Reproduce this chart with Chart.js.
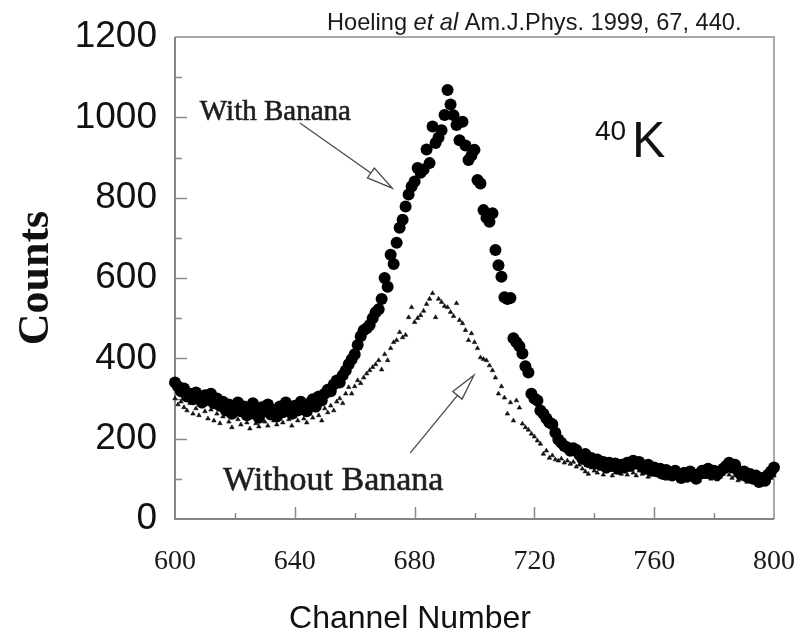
<!DOCTYPE html>
<html>
<head>
<meta charset="utf-8">
<title>40K spectrum with and without banana</title>
<script src="https://cdn.jsdelivr.net/npm/chart.js@4.4.1/dist/chart.umd.min.js"></script>
<style>
  html, body { margin: 0; padding: 0; background: #fff; }
  canvas { display: block; }
</style>
</head>
<body>
<canvas id="spectrum" width="811" height="631"></canvas>
<script>
// Counts per channel, one value per channel starting at firstChannel.
const firstChannel = 600;

const withBanana = [
  340, 330, 318, 325, 305, 312, 298, 315, 302, 290,
  308, 296, 312, 288, 300, 282, 292, 270, 285, 262,
  278, 290, 268, 280, 258, 275, 288, 265, 252, 278,
  268, 285, 260, 272, 255, 280, 266, 290, 272, 262,
  282, 270, 292, 278, 268, 288, 298, 280, 305, 295,
  312, 322, 318, 335, 345, 340, 358, 370, 385, 398,
  410, 433, 455, 470, 475, 483, 500, 515, 522, 548,
  600, 578, 658, 635, 688, 725, 745, 778, 808, 828,
  840, 874, 862, 870, 920, 886, 977, 936, 950, 968,
  1006, 1068, 1032, 1005, 981, 943, 989, 930, 894, 905,
  919, 844, 835, 769, 750, 740, 761, 670, 632, 603,
  552, 548, 550, 450, 440, 430, 412, 380, 365, 312,
  300, 295, 270, 262, 250, 240, 236, 215, 198, 190,
  182, 178, 170, 176, 172, 160, 150, 162, 142, 152,
  138, 148, 135, 142, 128, 140, 132, 138, 125, 135,
  128, 140, 132, 145, 138, 142, 130, 125, 135, 120,
  128, 118, 125, 112, 122, 115, 108, 120, 112, 102,
  115, 105, 118, 110, 100, 112, 120, 115, 125, 112,
  120, 110, 118, 125, 132, 140, 128, 135, 120, 110,
  118, 105, 112, 100, 108, 92, 102, 95, 110, 118,
  128
];

const withoutBanana = [
  300, 285, 292, 278, 270, 288, 262, 275, 258, 280,
  268, 250, 272, 245, 262, 238, 255, 270, 242, 228,
  258, 248, 235, 262, 240, 225, 252, 238, 230, 255,
  242, 232, 258, 245, 235, 250, 240, 262, 248, 232,
  255, 245, 268, 250, 240, 262, 252, 270, 258, 245,
  275, 265, 282, 270, 292, 300, 288, 312, 328, 312,
  330, 345, 338, 352, 362, 370, 378, 385, 395, 372,
  410, 395, 425, 440, 445, 465, 452, 458, 502, 527,
  490, 500, 507, 518, 535, 548, 562, 502, 548, 540,
  530, 527, 515, 505, 537, 495, 487, 470, 445, 462,
  440, 425, 402, 398, 395, 382, 370, 352, 312, 330,
  302, 262, 290, 245, 295, 277, 237, 228, 222, 212,
  205, 195, 187, 162, 170, 152, 158, 148, 145, 150,
  140, 145, 137, 142, 130, 135, 125, 118, 112, 128,
  120, 115, 125, 110, 118, 122, 108, 115, 120, 112,
  118, 110, 125, 115, 108, 120, 112, 118, 105, 115,
  110, 118, 105, 112, 100, 115, 108, 102, 112, 98,
  105, 110, 98, 108, 102, 95, 110, 104, 112, 100,
  108, 98, 105, 112, 118, 110, 102, 108, 96, 104,
  100, 92, 98, 105, 90, 96, 88, 100, 94, 102,
  108
];

// Axis ranges and tick spacing
const xRange = [600, 800];
const yRange = [0, 1200];
const xLabelStep = 40;
const xMinorStep = 20;
const yLabelStep = 200;
const yMinorStep = 100;

const seriesLabels = ['With Banana', 'Without Banana'];

// Text labels and arrows placed in data units (channel, counts)
const notes = {
  withText:    { ch: 608.3, counts: 993 },
  withArrow:   { from: [641.7, 986], to: [672.5, 824] },
  withoutText: { ch: 616.0, counts: 72 },
  withoutArrow:{ from: [678.5, 164], to: [699.8, 358] },
  isotope:     { ch: 740.2, counts: 901 }
};

const toPoints = (arr) => arr.map((v, i) => ({ x: firstChannel + i, y: v }));

function drawArrow(ctx, x0, y0, x1, y1) {
  const ang = Math.atan2(y1 - y0, x1 - x0);
  const headLen = 26, headHalf = 6;
  const bx = x1 - headLen * Math.cos(ang);
  const by = y1 - headLen * Math.sin(ang);
  const nx = -Math.sin(ang), ny = Math.cos(ang);
  ctx.beginPath();
  ctx.moveTo(x0, y0);
  ctx.lineTo(bx, by);
  ctx.stroke();
  ctx.beginPath();
  ctx.moveTo(x1, y1);
  ctx.lineTo(bx + nx * headHalf, by + ny * headHalf);
  ctx.lineTo(bx - nx * headHalf, by - ny * headHalf);
  ctx.closePath();
  ctx.fillStyle = '#fff';
  ctx.fill();
  ctx.stroke();
}

const framePlugin = {
  id: 'frameAndTicks',
  beforeDraw(chart) {
    const { ctx, width, height } = chart;
    ctx.save();
    ctx.fillStyle = '#fff';
    ctx.fillRect(0, 0, width, height);
    ctx.restore();
  },
  beforeDatasetsDraw(chart) {
    const { ctx, chartArea: a, scales: { x, y } } = chart;
    ctx.save();
    // inward tick marks
    ctx.strokeStyle = '#8a8a8a';
    ctx.lineWidth = 1.5;
    ctx.beginPath();
    for (let v = xRange[0] + xMinorStep; v < xRange[1]; v += xMinorStep) {
      const px = Math.round(x.getPixelForValue(v)) + 0.5;
      const len = (v % xLabelStep === 0) ? 12 : 6;
      ctx.moveTo(px, a.bottom);
      ctx.lineTo(px, a.bottom - len);
    }
    for (let v = yRange[0] + yMinorStep; v < yRange[1]; v += yMinorStep) {
      const py = Math.round(y.getPixelForValue(v)) + 0.5;
      const len = (v % yLabelStep === 0) ? 12 : 7;
      ctx.moveTo(a.left, py);
      ctx.lineTo(a.left + len, py);
    }
    ctx.stroke();
    // top and right frame
    ctx.strokeStyle = '#a8a8a8';
    ctx.lineWidth = 2;
    ctx.beginPath();
    ctx.moveTo(a.left, a.top);
    ctx.lineTo(a.right, a.top);
    ctx.lineTo(a.right, a.bottom);
    ctx.stroke();
    // axes
    ctx.strokeStyle = '#858585';
    ctx.beginPath();
    ctx.moveTo(a.left, a.top);
    ctx.lineTo(a.left, a.bottom);
    ctx.lineTo(a.right, a.bottom);
    ctx.stroke();
    ctx.restore();
  },
  afterDatasetsDraw(chart) {
    const { ctx, chartArea: a, scales: { x, y } } = chart;
    const X = (v) => x.getPixelForValue(v);
    const Y = (v) => y.getPixelForValue(v);
    ctx.save();
    ctx.textBaseline = 'alphabetic';
    ctx.textAlign = 'left';

    // series labels with arrows
    ctx.fillStyle = '#1e1e1e';
    ctx.strokeStyle = '#1e1e1e';
    ctx.lineWidth = 0.6;
    ctx.font = '29px "Liberation Serif", "DejaVu Serif", serif';
    ctx.fillText(seriesLabels[0], X(notes.withText.ch), Y(notes.withText.counts));
    ctx.strokeText(seriesLabels[0], X(notes.withText.ch), Y(notes.withText.counts));
    ctx.font = '34px "Liberation Serif", "DejaVu Serif", serif';
    ctx.fillText(seriesLabels[1], X(notes.withoutText.ch), Y(notes.withoutText.counts));
    ctx.strokeText(seriesLabels[1], X(notes.withoutText.ch), Y(notes.withoutText.counts));

    ctx.strokeStyle = '#4a4a4a';
    ctx.lineWidth = 1.3;
    drawArrow(ctx, X(notes.withArrow.from[0]), Y(notes.withArrow.from[1]),
                   X(notes.withArrow.to[0]), Y(notes.withArrow.to[1]));
    drawArrow(ctx, X(notes.withoutArrow.from[0]), Y(notes.withoutArrow.from[1]),
                   X(notes.withoutArrow.to[0]), Y(notes.withoutArrow.to[1]));

    // isotope label: superscript mass number then K
    ctx.fillStyle = '#111';
    const ix = X(notes.isotope.ch), iy = Y(notes.isotope.counts);
    ctx.font = '28px "Liberation Sans", Arial, sans-serif';
    ctx.fillText('40', ix, iy - 17);
    ctx.font = '50px "Liberation Sans", Arial, sans-serif';
    ctx.fillText('K', ix + 37, iy);

    // citation line above the frame
    ctx.fillStyle = '#1a1a1a';
    let cx = a.left + 152;
    const cy = a.top - 7;
    const parts = [
      ['Hoeling ', 'normal'],
      ['et al', 'italic'],
      [' Am.J.Phys. 1999, 67, 440.', 'normal']
    ];
    for (const [txt, style] of parts) {
      ctx.font = style + ' 23.6px "Liberation Sans", Arial, sans-serif';
      ctx.fillText(txt, cx, cy);
      cx += ctx.measureText(txt).width;
    }

    // horizontal axis title
    ctx.font = '32px "Liberation Sans", Arial, sans-serif';
    ctx.textAlign = 'center';
    ctx.fillStyle = '#111';
    ctx.fillText('Channel Number', 410, 628);
    ctx.restore();
  }
};

new Chart(document.getElementById('spectrum'), {
  type: 'scatter',
  data: {
    datasets: [
      {
        label: seriesLabels[0],
        data: toPoints(withBanana),
        pointStyle: 'circle',
        pointRadius: 6,
        backgroundColor: '#000',
        borderColor: '#000',
        borderWidth: 0,
        clip: false
      },
      {
        label: seriesLabels[1],
        data: toPoints(withoutBanana),
        pointStyle: 'triangle',
        pointRadius: 2.6,
        backgroundColor: '#111',
        borderColor: '#111',
        borderWidth: 0.6,
        clip: false
      }
    ]
  },
  options: {
    responsive: false,
    animation: false,
    events: [],
    layout: { autoPadding: false, padding: { left: 0, top: 37, right: 37, bottom: 0 } },
    plugins: { legend: { display: false }, tooltip: { enabled: false } },
    scales: {
      x: {
        type: 'linear',
        min: xRange[0],
        max: xRange[1],
        grid: { display: false, drawTicks: false },
        border: { display: false },
        afterFit(scale) { scale.height = 112; },
        ticks: {
          stepSize: xLabelStep,
          autoSkip: false,
          maxRotation: 0,
          padding: 0,
          color: '#1a1a1a',
          callback: (v) => String(v),
          // tall line box pushes the labels down from the axis
          font: { family: '"Liberation Serif", "DejaVu Serif", serif', size: 28, lineHeight: 3.07 }
        }
      },
      y: {
        type: 'linear',
        min: yRange[0],
        max: yRange[1],
        grid: { display: false, drawTicks: false },
        border: { display: false },
        afterFit(scale) { scale.width = 175; },
        ticks: {
          stepSize: yLabelStep,
          autoSkip: false,
          padding: 18,
          color: '#111',
          callback: (v) => String(v),
          font: { family: '"Liberation Sans", Arial, sans-serif', size: 37, lineHeight: 1 }
        },
        title: {
          display: true,
          text: 'Counts',
          color: '#111',
          padding: { top: 15, bottom: 0 },
          font: { family: '"Liberation Serif", "Times New Roman", serif', size: 44, weight: 'bold', lineHeight: 1 }
        }
      }
    }
  },
  plugins: [framePlugin]
});
</script>
</body>
</html>
